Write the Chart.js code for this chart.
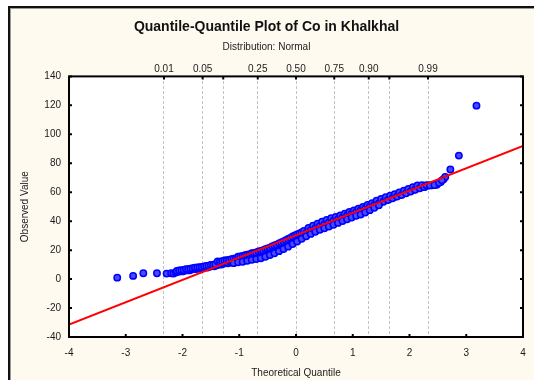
<!DOCTYPE html>
<html>
<head>
<meta charset="utf-8">
<script src="https://cdn.jsdelivr.net/npm/chart.js@4.4.1/dist/chart.umd.min.js"></script>
<style>
  html, body { margin: 0; padding: 0; background: #fff; overflow: hidden; width: 534px; height: 380px; }
  #frame { position: absolute; left: 8px; top: 6px; width: 600px; height: 420px; background: #fffaf0;
           border-left: 2px solid #111; border-top: 2px solid #111; box-shadow: inset 1px 1px 0 #9a9a9a; }
  #qq { position: absolute; left: 10px; top: 8px; }
</style>
</head>
<body>
<div id="frame"></div>
<canvas id="qq" width="534" height="372"></canvas>
<script>
const qqX = [
  -3.15, -2.87, -2.69, -2.45, -2.28, -2.20, -2.16,
  -2.12, -2.08, -2.04, -2.00, -1.96, -1.92, -1.88, -1.84, -1.80, -1.76, -1.72, -1.68, -1.64, -1.60,
  -1.56, -1.52, -1.48, -1.44, -1.40, -1.36, -1.32, -1.28, -1.24, -1.20, -1.16, -1.12, -1.08, -1.04,
  -1.00, -0.96, -0.92, -0.88, -0.84, -0.80, -0.76, -0.72, -0.68, -0.64, -0.60, -0.56, -0.52, -0.48,
  -0.44, -0.40, -0.36, -0.32, -0.28, -0.24, -0.20, -0.16, -0.12, -0.08, -0.04, 0.00, 0.04, 0.08,
  0.12, 0.16, 0.20, 0.24, 0.28, 0.32, 0.36, 0.40, 0.44, 0.48, 0.52, 0.56, 0.60, 0.64, 0.68, 0.72,
  0.76, 0.80, 0.84, 0.88, 0.92, 0.96, 1.00, 1.04, 1.08, 1.12, 1.16, 1.20, 1.24, 1.28, 1.32, 1.36,
  1.40, 1.44, 1.48, 1.52, 1.56, 1.60, 1.64, 1.68, 1.72, 1.76, 1.80, 1.84, 1.88, 1.92, 1.96, 2.00,
  2.04, 2.08, 2.12, 2.16, 2.20, 2.24, 2.28, 2.33, 2.40, 2.48, 2.55, 2.60, 2.63, 2.72, 2.87, 3.18
];
const qqY = [
  1.0, 2.2, 4.0, 4.0, 3.8, 4.0, 3.8,
  4.6, 5.0, 5.4, 5.3, 5.9, 6.1, 6.0, 6.6, 6.9, 7.0, 7.4, 7.2, 7.8, 8.1,
  8.0, 8.6, 9.0, 8.9, 9.6, 10.1, 10.0, 10.6, 11.0, 10.9, 11.6, 12.1, 12.0, 12.6,
  13.2, 13.0, 13.8, 14.3, 14.2, 15.0, 15.6, 15.5, 16.3, 17.0, 17.0, 17.9, 18.6, 18.8,
  19.7, 20.5, 20.9, 21.8, 22.6, 23.1, 24.0, 24.9, 25.6, 26.5, 27.4, 28.2, 29.1, 30.0,
  31.0, 32.0, 33.0, 33.9, 34.6, 35.4, 36.1, 36.8, 37.5, 38.0, 38.6, 39.4, 40.0, 40.6, 41.3, 41.6,
  42.3, 42.9, 43.5, 44.3, 44.7, 45.4, 46.0, 46.5, 47.3, 47.8, 48.4, 49.2, 49.6, 50.3, 50.8, 51.4,
  52.1, 52.5, 53.2, 53.7, 54.3, 55.0, 55.4, 56.1, 56.6, 57.2, 57.9, 58.3, 59.0, 59.6, 60.1, 60.8,
  61.4, 61.9, 62.6, 63.0, 63.5, 64.0, 64.2, 64.6, 64.8, 65.2, 67.0, 69.0, 70.5, 75.7, 85.3, 119.8
];
// points lying between the ones above (the band is a few units thick)
const qqX2 = [
  -2.10, -2.06, -2.02, -1.98, -1.94, -1.90, -1.86, -1.82, -1.78, -1.74, -1.70, -1.66, -1.62, -1.58,
  -1.54, -1.50, -1.46, -1.42, -1.38, -1.34, -1.30, -1.26, -1.22, -1.18, -1.14, -1.10, -1.06, -1.02,
  -0.98, -0.94, -0.90, -0.86, -0.82, -0.78, -0.74, -0.70, -0.66, -0.62, -0.58, -0.54, -0.50, -0.46,
  -0.42, -0.38, -0.34, -0.30, -0.26, -0.22, -0.18, -0.14, -0.10, -0.06, -0.02, 0.02, 0.06, 0.10,
  0.14, 0.18, 0.22, 0.26, 0.30, 0.34, 0.38, 0.42, 0.46, 0.50, 0.54, 0.58, 0.62, 0.66, 0.70, 0.74,
  0.78, 0.82, 0.86, 0.90, 0.94, 0.98, 1.02, 1.06, 1.10, 1.14, 1.18, 1.22, 1.26, 1.30, 1.34, 1.38,
  1.42, 1.46, 1.50, 1.54, 1.58, 1.62, 1.66, 1.70, 1.74, 1.78, 1.82, 1.86, 1.90, 1.94, 1.98, 2.02,
  2.06, 2.10, 2.14, 2.18, 2.22, 2.26, 2.30, 2.36, 2.44, 2.52, 2.57
];
const qqY2 = [
  5.6, 6.0, 6.2, 6.3, 6.9, 6.8, 7.2, 7.5, 7.9, 8.0, 8.2, 8.4, 8.8, 9.0,
  9.2, 9.7, 9.9, 10.3, 12.1, 12.0, 12.3, 12.8, 13.0, 13.2, 13.8, 14.1, 14.3, 15.4,
  15.6, 15.9, 16.5, 16.8, 17.1, 17.8, 18.0, 18.4, 19.1, 19.5, 19.9, 20.7, 21.2, 21.7,
  22.6, 23.2, 23.8, 24.7, 25.3, 26.0, 26.9, 27.7, 28.5, 29.4, 30.2, 30.9, 31.6, 32.2,
  33.3, 31.9, 35.3, 33.7, 36.8, 35.2, 38.3, 36.6, 39.6, 37.7, 40.8, 39.1, 42.1, 40.4, 43.0, 41.4,
  44.0, 42.6, 45.2, 43.9, 46.3, 45.1, 47.4, 46.3, 48.6, 47.5, 49.8, 48.8, 51.2, 50.0, 52.5, 51.2,
  54.1, 52.3, 55.3, 53.4, 56.5, 54.6, 57.6, 55.8, 58.7, 57.0, 59.9, 58.1, 61.1, 59.3, 62.3, 60.5,
  63.5, 61.7, 64.6, 62.7, 64.8, 63.5, 64.9, 64.7, 65.0, 66.5, 68.2
];
// lower edge of the band in its middle part
const qqX3 = [
  -1.10, -1.02, -0.94, -0.86, -0.78, -0.70, -0.62, -0.54, -0.46, -0.38, -0.30, -0.22, -0.14, -0.06,
  0.02, 0.10, 0.18, 0.26, 0.34, 0.42, 0.50, 0.58, 0.66, 0.74, 0.82, 0.90, 0.98, 1.06, 1.14, 1.22,
  1.30, 1.38, 1.46
];
const qqY3 = [
  11.0, 11.6, 12.0, 12.6, 13.3, 13.8, 14.4, 15.4, 16.6, 17.8, 19.3, 20.8, 22.4, 24.2,
  26.0, 27.8, 29.6, 31.2, 32.7, 34.0, 35.1, 36.3, 37.5, 38.8, 40.1, 41.3, 42.5, 43.7, 44.6, 46.0,
  47.6, 49.3, 51.0
];

// fitted normal reference line, end points
const fitX = [-4, 4];
const fitY = [-31.5, 92];

// top axis: normal probabilities and their z positions
const probZ = [-2.326, -1.645, -1.282, -0.674, 0, 0.674, 1.282, 1.645, 2.326];
const probLabels = ['0.01', '0.05', '', '0.25', '0.50', '0.75', '0.90', '', '0.99'];

const xTicks = [-4, -3, -2, -1, 0, 1, 2, 3, 4];
const yTicks = [-40, -20, 0, 20, 40, 60, 80, 100, 120, 140];

Chart.defaults.font.family = 'Arial, "Liberation Sans", sans-serif';
Chart.defaults.color = '#1a1a1a';

const plotFrame = {
  id: 'plotFrame',
  beforeDraw(chart) {
    const { ctx, chartArea: a } = chart;
    ctx.save();
    ctx.fillStyle = '#ffffff';
    ctx.fillRect(a.left, a.top, a.right - a.left, a.bottom - a.top);
    ctx.restore();
  },
  afterDraw(chart) {
    const { ctx, chartArea: a, scales } = chart;
    const len = 3;
    ctx.save();
    ctx.strokeStyle = '#000';
    ctx.lineWidth = 2;
    ctx.beginPath();
    scales.x.ticks.forEach((t) => {
      const px = scales.x.getPixelForValue(t.value);
      ctx.moveTo(px, a.bottom); ctx.lineTo(px, a.bottom - len);
    });
    scales.xTop.ticks.forEach((t) => {
      const px = scales.xTop.getPixelForValue(t.value);
      ctx.moveTo(px, a.top); ctx.lineTo(px, a.top + len);
    });
    scales.y.ticks.forEach((t) => {
      const py = scales.y.getPixelForValue(t.value);
      ctx.moveTo(a.left, py); ctx.lineTo(a.left + len, py);
      ctx.moveTo(a.right, py); ctx.lineTo(a.right - len, py);
    });
    ctx.stroke();
    ctx.strokeRect(a.left, a.top, a.right - a.left, a.bottom - a.top);
    ctx.restore();
  }
};

const toPoints = (xs, ys) => xs.map((x, i) => ({ x, y: ys[i] }));
const qqPoints = toPoints(qqX, qqY).concat(toPoints(qqX2, qqY2), toPoints(qqX3, qqY3));

new Chart(document.getElementById('qq'), {
  data: {
    datasets: [
      {
        type: 'line',
        data: toPoints(fitX, fitY),
        borderColor: '#ff0000',
        borderWidth: 2,
        pointRadius: 0,
        xAxisID: 'x',
        yAxisID: 'y'
      },
      {
        type: 'scatter',
        data: qqPoints,
        backgroundColor: '#4a4aff',
        borderColor: '#0000ff',
        borderWidth: 1.5,
        pointRadius: 3.2,
        xAxisID: 'x',
        yAxisID: 'y'
      }
    ]
  },
  options: {
    responsive: false,
    animation: false,
    events: [],
    layout: { padding: { left: 0, right: 21, top: 0, bottom: 0 } },
    plugins: {
      legend: { display: false },
      tooltip: { enabled: false },
      title: {
        display: true,
        text: 'Quantile-Quantile Plot of Co in Khalkhal',
        color: '#111',
        font: { size: 14, weight: 'bold' },
        padding: { top: 11, bottom: 4 }
      },
      subtitle: {
        display: true,
        text: 'Distribution: Normal',
        color: '#222',
        font: { size: 10 },
        padding: { top: 1.6, bottom: 0 }
      }
    },
    scales: {
      x: {
        type: 'linear',
        position: 'bottom',
        min: -4, max: 4,
        afterBuildTicks: (s) => { s.ticks = xTicks.map((v) => ({ value: v })); },
        afterFit: (s) => { s.height = 43; },
        ticks: { padding: 10, font: { size: 10 }, maxRotation: 0, autoSkip: false },
        grid: { display: false, drawTicks: false },
        border: { display: false },
        title: { display: true, text: 'Theoretical Quantile', font: { size: 10 }, padding: { top: 2, bottom: 1 } }
      },
      xTop: {
        type: 'linear',
        position: 'top',
        min: -4, max: 4,
        afterBuildTicks: (s) => { s.ticks = probZ.map((v) => ({ value: v })); },
        afterFit: (s) => { s.height = 23; },
        ticks: { padding: 1, font: { size: 10 }, maxRotation: 0, autoSkip: false, callback: (v, i) => probLabels[i] },
        grid: { display: true, drawTicks: false, color: '#c2c2c2', lineWidth: 1 },
        border: { display: false, dash: [3, 2] }
      },
      y: {
        type: 'linear',
        min: -40, max: 140,
        afterBuildTicks: (s) => { s.ticks = yTicks.map((v) => ({ value: v })); },
        afterFit: (s) => { s.width = 59; },
        ticks: { padding: 8, font: { size: 10 } },
        grid: { display: false, drawTicks: false },
        border: { display: false },
        title: { display: true, text: 'Observed Value', font: { size: 10 }, padding: { top: 9, bottom: 0 } }
      }
    }
  },
  plugins: [plotFrame]
});
</script>
</body>
</html>
